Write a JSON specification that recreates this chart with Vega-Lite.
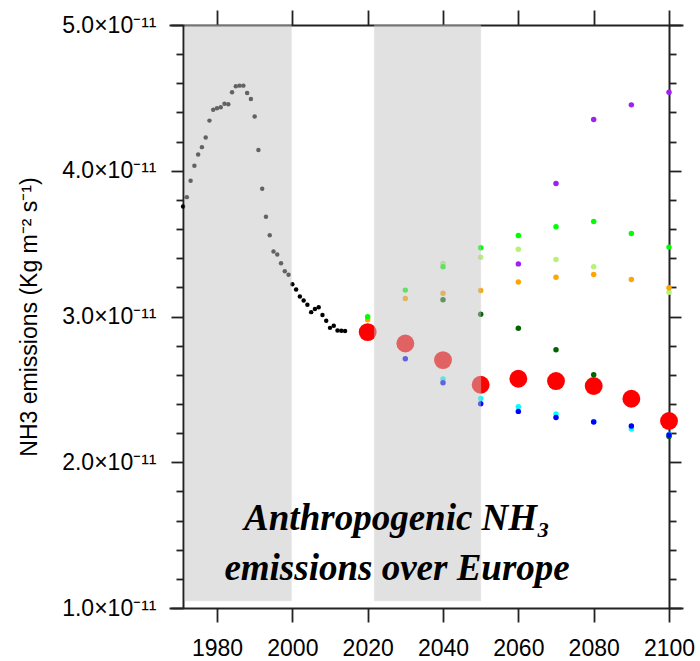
{
  "$schema": "https://vega.github.io/schema/vega-lite/v6.json",
  "width": 514,
  "height": 583,
  "autosize": "none",
  "padding": {"left": 169, "top": 25, "right": 17, "bottom": 53},
  "background": "white",
  "config": {
    "view": {"stroke": null},
    "axis": {
      "grid": false,
      "domainColor": "#222222",
      "domainWidth": 2,
      "tickColor": "#222222",
      "tickWidth": 1.8,
      "labelFont": "Liberation Sans",
      "labelColor": "black",
      "titleFont": "Liberation Sans",
      "titleFontWeight": "normal",
      "titleColor": "black"
    }
  },
  "datasets": {
    "hist": [
      {"year": 1971, "emission": 3.754e-11}, {"year": 1972, "emission": 3.819e-11},
      {"year": 1973, "emission": 3.931e-11}, {"year": 1974, "emission": 4.034e-11},
      {"year": 1975, "emission": 4.111e-11}, {"year": 1976, "emission": 4.162e-11},
      {"year": 1977, "emission": 4.228e-11}, {"year": 1978, "emission": 4.344e-11},
      {"year": 1979, "emission": 4.418e-11}, {"year": 1980, "emission": 4.429e-11},
      {"year": 1981, "emission": 4.436e-11}, {"year": 1982, "emission": 4.459e-11},
      {"year": 1983, "emission": 4.457e-11}, {"year": 1984, "emission": 4.539e-11},
      {"year": 1985, "emission": 4.580e-11}, {"year": 1986, "emission": 4.584e-11},
      {"year": 1987, "emission": 4.584e-11}, {"year": 1988, "emission": 4.534e-11},
      {"year": 1989, "emission": 4.493e-11}, {"year": 1990, "emission": 4.372e-11},
      {"year": 1991, "emission": 4.143e-11}, {"year": 1992, "emission": 3.876e-11},
      {"year": 1993, "emission": 3.684e-11}, {"year": 1994, "emission": 3.558e-11},
      {"year": 1995, "emission": 3.446e-11}, {"year": 1996, "emission": 3.425e-11},
      {"year": 1997, "emission": 3.366e-11}, {"year": 1998, "emission": 3.311e-11},
      {"year": 1999, "emission": 3.286e-11}, {"year": 2000, "emission": 3.222e-11},
      {"year": 2001, "emission": 3.185e-11}, {"year": 2002, "emission": 3.137e-11},
      {"year": 2003, "emission": 3.110e-11}, {"year": 2004, "emission": 3.080e-11},
      {"year": 2005, "emission": 3.030e-11}, {"year": 2006, "emission": 3.051e-11},
      {"year": 2007, "emission": 3.064e-11}, {"year": 2008, "emission": 3.010e-11},
      {"year": 2009, "emission": 2.971e-11}, {"year": 2010, "emission": 2.922e-11},
      {"year": 2011, "emission": 2.936e-11}, {"year": 2012, "emission": 2.904e-11},
      {"year": 2013, "emission": 2.902e-11}, {"year": 2014, "emission": 2.900e-11}
    ],
    "scen": [
      {"series": "darkgreen", "year": 2040, "emission": 3.115e-11},
      {"series": "darkgreen", "year": 2050, "emission": 3.016e-11},
      {"series": "darkgreen", "year": 2060, "emission": 2.920e-11},
      {"series": "darkgreen", "year": 2070, "emission": 2.772e-11},
      {"series": "darkgreen", "year": 2080, "emission": 2.600e-11},
      {"series": "darkgreen", "year": 2090, "emission": 2.440e-11},
      {"series": "darkgreen", "year": 2100, "emission": 2.177e-11},
      {"series": "cyan", "year": 2040, "emission": 2.571e-11},
      {"series": "cyan", "year": 2050, "emission": 2.438e-11},
      {"series": "cyan", "year": 2060, "emission": 2.381e-11},
      {"series": "cyan", "year": 2070, "emission": 2.331e-11},
      {"series": "cyan", "year": 2080, "emission": 2.280e-11},
      {"series": "cyan", "year": 2090, "emission": 2.228e-11},
      {"series": "cyan", "year": 2100, "emission": 2.190e-11},
      {"series": "blue", "year": 2030, "emission": 2.710e-11},
      {"series": "blue", "year": 2040, "emission": 2.545e-11},
      {"series": "blue", "year": 2050, "emission": 2.401e-11},
      {"series": "blue", "year": 2060, "emission": 2.349e-11},
      {"series": "blue", "year": 2070, "emission": 2.307e-11},
      {"series": "blue", "year": 2080, "emission": 2.276e-11},
      {"series": "blue", "year": 2090, "emission": 2.248e-11},
      {"series": "blue", "year": 2100, "emission": 2.187e-11},
      {"series": "lightgreen", "year": 2040, "emission": 3.364e-11},
      {"series": "lightgreen", "year": 2050, "emission": 3.407e-11},
      {"series": "lightgreen", "year": 2060, "emission": 3.462e-11},
      {"series": "lightgreen", "year": 2070, "emission": 3.391e-11},
      {"series": "lightgreen", "year": 2080, "emission": 3.341e-11},
      {"series": "lightgreen", "year": 2100, "emission": 3.167e-11},
      {"series": "orange", "year": 2020, "emission": 2.977e-11},
      {"series": "orange", "year": 2030, "emission": 3.124e-11},
      {"series": "orange", "year": 2040, "emission": 3.160e-11},
      {"series": "orange", "year": 2050, "emission": 3.178e-11},
      {"series": "orange", "year": 2060, "emission": 3.236e-11},
      {"series": "orange", "year": 2070, "emission": 3.270e-11},
      {"series": "orange", "year": 2080, "emission": 3.288e-11},
      {"series": "orange", "year": 2090, "emission": 3.254e-11},
      {"series": "orange", "year": 2100, "emission": 3.197e-11},
      {"series": "green", "year": 2020, "emission": 2.998e-11},
      {"series": "green", "year": 2030, "emission": 3.181e-11},
      {"series": "green", "year": 2040, "emission": 3.341e-11},
      {"series": "green", "year": 2050, "emission": 3.471e-11},
      {"series": "green", "year": 2060, "emission": 3.556e-11},
      {"series": "green", "year": 2070, "emission": 3.615e-11},
      {"series": "green", "year": 2080, "emission": 3.652e-11},
      {"series": "green", "year": 2090, "emission": 3.569e-11},
      {"series": "green", "year": 2100, "emission": 3.476e-11},
      {"series": "purple", "year": 2060, "emission": 3.361e-11},
      {"series": "purple", "year": 2070, "emission": 3.912e-11},
      {"series": "purple", "year": 2080, "emission": 4.351e-11},
      {"series": "purple", "year": 2090, "emission": 4.452e-11},
      {"series": "purple", "year": 2100, "emission": 4.539e-11}
    ],
    "mean": [
      {"year": 2020, "emission": 2.893e-11}, {"year": 2030, "emission": 2.815e-11},
      {"year": 2040, "emission": 2.701e-11}, {"year": 2050, "emission": 2.532e-11},
      {"year": 2060, "emission": 2.573e-11}, {"year": 2070, "emission": 2.557e-11},
      {"year": 2080, "emission": 2.523e-11}, {"year": 2090, "emission": 2.436e-11},
      {"year": 2100, "emission": 2.283e-11}
    ],
    "bands": [
      {"start": 1971.5, "end": 1999.7, "low": 1.05e-11, "high": 5e-11},
      {"start": 2021.8, "end": 2050.0, "low": 1.05e-11, "high": 5e-11}
    ],
    "caption": [
      {"year": 2027.8, "emission": 1.537e-11}
    ]
  },
  "layer": [
    {
      "data": {"name": "hist"},
      "mark": {"type": "circle", "size": 20, "color": "black", "opacity": 1},
      "encoding": {
        "x": {
          "field": "year", "type": "quantitative",
          "scale": {"domain": [1967.26, 2103.71], "nice": false, "zero": false},
          "axis": {
            "orient": "bottom", "values": [1980, 2000, 2020, 2040, 2060, 2080, 2100],
            "format": "d", "tickSize": 14, "labelFontSize": 23, "labelPadding": 15,
            "labelFlush": false, "labelOverlap": false, "title": null
          }
        },
        "y": {
          "field": "emission", "type": "quantitative",
          "scale": {"domain": [1e-11, 5e-11], "nice": false, "zero": false},
          "axis": {
            "orient": "left", "offset": -14,
            "values": [1e-11, 1.2e-11, 1.4e-11, 1.6e-11, 1.8e-11, 2e-11, 2.2e-11, 2.4e-11, 2.6e-11, 2.8e-11, 3e-11, 3.2e-11, 3.4e-11, 3.6e-11, 3.8e-11, 4e-11, 4.2e-11, 4.4e-11, 4.6e-11, 4.8e-11, 5e-11],
            "tickSize": {"condition": {"test": "abs(datum.value*1e11 - round(datum.value*1e11)) < 0.01", "value": 12}, "value": 7},
            "labelExpr": "abs(datum.value*1e11 - round(datum.value*1e11)) < 0.01 ? format(datum.value*1e11, '.1f') + '×10⁻¹¹' : ''",
            "labelFontSize": 23, "labelPadding": 15, "labelFlush": false, "labelOverlap": false,
            "title": "NH3 emissions (Kg m⁻² s⁻¹)", "titleFontSize": 23, "titlePadding": 20
          }
        }
      }
    },
    {
      "data": {"name": "scen"},
      "mark": {"type": "circle", "size": 30, "opacity": 1},
      "encoding": {
        "x": {
          "field": "year", "type": "quantitative",
          "axis": {
            "orient": "top", "values": [1980, 2000, 2020, 2040, 2060, 2080, 2100],
            "tickSize": 15, "labels": false, "title": null
          }
        },
        "y": {
          "field": "emission", "type": "quantitative",
          "axis": {
            "orient": "right", "offset": -14,
            "values": [1e-11, 1.2e-11, 1.4e-11, 1.6e-11, 1.8e-11, 2e-11, 2.2e-11, 2.4e-11, 2.6e-11, 2.8e-11, 3e-11, 3.2e-11, 3.4e-11, 3.6e-11, 3.8e-11, 4e-11, 4.2e-11, 4.4e-11, 4.6e-11, 4.8e-11, 5e-11],
            "tickSize": {"condition": {"test": "abs(datum.value*1e11 - round(datum.value*1e11)) < 0.01", "value": 12}, "value": 7},
            "labels": false, "title": null
          }
        },
        "color": {
          "field": "series", "type": "nominal", "legend": null,
          "scale": {
            "domain": ["darkgreen", "cyan", "blue", "lightgreen", "orange", "green", "purple"],
            "range": ["#006400", "#00ffff", "#0000ff", "#b8f078", "#ffa500", "#00ff00", "#a020f0"]
          }
        }
      }
    },
    {
      "data": {"name": "mean"},
      "mark": {"type": "circle", "size": 320, "color": "#ff0000", "opacity": 1},
      "encoding": {
        "x": {"field": "year", "type": "quantitative", "axis": null},
        "y": {"field": "emission", "type": "quantitative", "axis": null}
      }
    },
    {
      "data": {"name": "bands"},
      "mark": {"type": "rect", "color": "#c4c4c4", "opacity": 0.5, "stroke": "#c8c8c8", "strokeWidth": 1, "strokeOpacity": 0.8},
      "encoding": {
        "x": {"field": "start", "type": "quantitative", "axis": null},
        "x2": {"field": "end"},
        "y": {"field": "low", "type": "quantitative", "axis": null},
        "y2": {"field": "high"}
      }
    },
    {
      "data": {"name": "caption"},
      "mark": {
        "type": "text",
        "font": "Liberation Serif", "fontStyle": "italic", "fontWeight": "bold",
        "fontSize": 37, "lineHeight": 50, "align": "center", "baseline": "alphabetic", "color": "black"
      },
      "encoding": {
        "x": {"field": "year", "type": "quantitative", "axis": null},
        "y": {"field": "emission", "type": "quantitative", "axis": null},
        "text": {"value": ["Anthropogenic NH₃", "emissions over Europe"]}
      }
    }
  ],
  "resolve": {"axis": {"x": "independent", "y": "independent"}}
}
